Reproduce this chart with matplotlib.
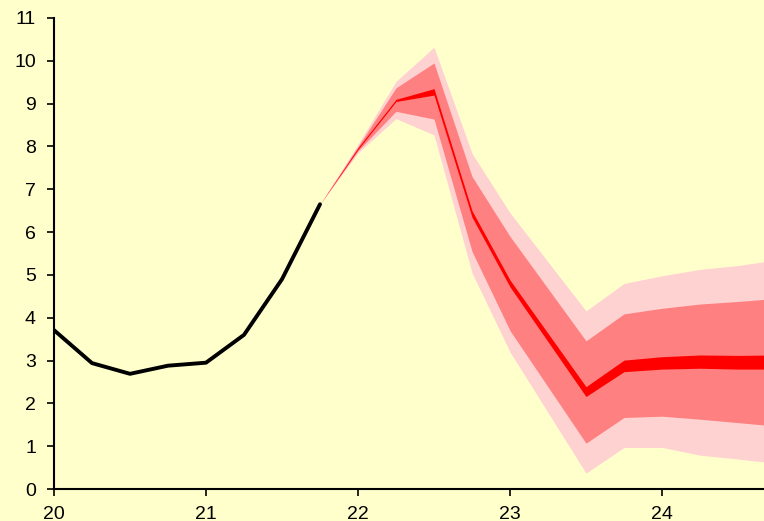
import numpy as np
import matplotlib.pyplot as plt

# history (quarterly)
hist_x = [20.0, 20.25, 20.5, 20.75, 21.0, 21.25, 21.5, 21.75]
hist_y = [3.71, 2.94, 2.69, 2.88, 2.95, 3.60, 4.90, 6.65]

# forecast fan
fan_x = [21.75, 22.0, 22.25, 22.5, 22.75, 23.0, 23.5, 23.75, 24.0, 24.25, 24.5, 24.75]
outer_lo = [6.65, 7.85, 8.65, 8.27, 5.05, 3.20, 0.37, 0.97, 0.97, 0.79, 0.70, 0.60]
mid_lo = [6.65, 7.90, 8.82, 8.64, 5.55, 3.70, 1.07, 1.67, 1.70, 1.63, 1.55, 1.47]
cen_lo = [6.65, 7.93, 9.05, 9.20, 6.35, 4.72, 2.16, 2.74, 2.80, 2.82, 2.80, 2.80]
cen_hi = [6.65, 7.97, 9.10, 9.35, 6.50, 4.88, 2.39, 3.01, 3.09, 3.13, 3.12, 3.13]
mid_hi = [6.65, 8.00, 9.37, 9.95, 7.30, 5.90, 3.46, 4.09, 4.22, 4.32, 4.38, 4.45]
outer_hi = [6.65, 8.05, 9.52, 10.32, 7.84, 6.45, 4.16, 4.80, 4.98, 5.13, 5.22, 5.35]

x_ticks = [20, 21, 22, 23, 24]
y_ticks = list(range(0, 12))

bg = '#FFFFCC'
fig = plt.figure(figsize=(7.64, 5.21), dpi=100, facecolor=bg)
ax = fig.add_axes([54 / 764, 32 / 521, 710 / 764, 471 / 521])
ax.set_facecolor(bg)

ax.fill_between(fan_x, outer_lo, outer_hi, color='#FFD2D2', linewidth=0)
ax.fill_between(fan_x, mid_lo, mid_hi, color='#FF8080', linewidth=0)
ax.fill_between(fan_x, cen_lo, cen_hi, color='#FF0000', linewidth=0)
ax.plot(hist_x, hist_y, color='black', linewidth=2.8, solid_capstyle='round')

ax.set_xlim(20, 20 + 710 / 152)
ax.set_ylim(0, 11)
ax.set_xticks(x_ticks)
ax.set_yticks(y_ticks)

for s in ['top', 'right']:
    ax.spines[s].set_visible(False)
for s in ['left', 'bottom']:
    ax.spines[s].set_linewidth(1.5)
ax.tick_params(axis='both', direction='out', length=5, width=1.2,
               labelsize=14)
ax.tick_params(axis='y', pad=8)
ax.tick_params(axis='x', pad=7)
for lab in ax.get_xticklabels() + ax.get_yticklabels():
    lab.set_fontfamily('Liberation Sans')

fig.savefig('out.png', dpi=100, facecolor=bg)
